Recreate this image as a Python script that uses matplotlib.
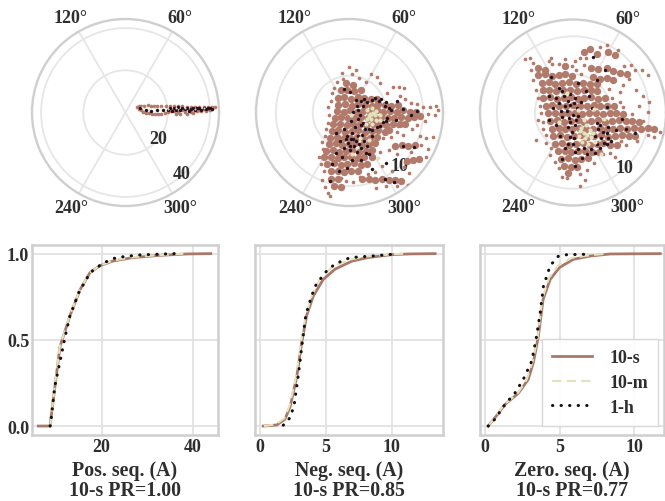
import numpy as np
import matplotlib
matplotlib.use('Agg')
import matplotlib.pyplot as plt

plt.rcParams['font.family'] = ['Liberation Serif', 'DejaVu Serif']
plt.rcParams['font.weight'] = 'bold'

BROWN = '#b27a6b'
PALE = '#e4e2bd'
DARK = '#26101c'
TEXT = '#2e2e2e'

pos_10s = np.array([
    5.5+2.4j, 6.5+2.9j, 7.5+3.1j, 9+3.3j, 10.5+3.4j, 12+3.3j, 13.5+3.3j, 15+3.2j, 17+3.1j, 19+3.1j,
    21+3j, 23+3j, 25+2.9j, 27+2.9j, 29+2.8j, 31+2.8j, 33+2.7j, 35+2.7j, 37+2.6j, 39+2.6j, 41+2.5j, 42.5+2.4j,
    6.5+1.6j, 7.5+1j, 8.5+0.4j, 9.5-0.1j, 11-0.3j, 12.5-0.5j, 14-0.6j, 15.5-0.6j, 17-0.5j, 18.5-0.4j,
    20+0.2j, 21.5+0.6j, 22+1.2j, 23+0.5j, 24-0.5j, 25+0.2j, 26-0.8j, 27+1.2j, 28+0.1j, 29-0.6j,
    30+1.1j, 31+0.4j, 32-0.3j, 33+1.3j, 34+0.6j, 35+1.4j, 36+0.5j, 37+1.5j, 38+0.9j, 39+1.6j, 40+1.2j, 41+1.7j,
])
neg_10s_core = np.array([
    -0.5+4j, 0.5+3.8j,
    -1.2+3j, -0.3+3.1j, 0.6+2.9j, 1.5+3j,
    -1.6+2j, -0.7+2.1j, 0.2+1.9j, 1.1+2.1j, 2+2j, 2.9+1.9j, 3.8+1.8j,
    -1.5+1j, -0.6+1.1j, 0.3+0.9j, 1.2+1.1j, 2.1+1j, 3+0.9j, 3.9+1.1j, 4.8+1j, 5.7+0.9j, 6.6+1j,
    -1.7+0.2j, -0.8+0.1j, 0.1+0.3j, 1+0.1j, 1.9+0.2j, 2.8+0.1j, 3.7+0.3j, 4.6+0.1j, 5.5+0.2j, 6.4+0.1j, 7.3+0.3j, 8.2+0.1j, 9.1+0.1j,
    -2-0.7j, -1.1-0.6j, -0.2-0.8j, 0.7-0.7j, 1.6-0.6j, 2.5-0.8j, 3.4-0.7j, 4.3-0.6j, 5.2-0.8j, 6.1-0.7j, 7-0.6j, 7.9-0.7j, 8.8-0.6j, 9.6-0.5j,
    -2.2-1.6j, -1.3-1.5j, -0.4-1.7j, 0.5-1.6j, 1.4-1.5j, 2.3-1.7j, 3.2-1.6j, 4.1-1.5j, 5-1.7j, 5.9-1.6j, 6.8-1.5j, 7.6-1.6j,
    -2.4-2.5j, -1.5-2.4j, -0.6-2.6j, 0.3-2.5j, 1.2-2.4j, 2.1-2.6j, 3-2.5j, 3.9-2.4j, 4.8-2.6j, 5.4-2.4j,
    -2.6-3.4j, -1.7-3.3j, -0.8-3.5j, 0.1-3.4j, 1-3.3j, 1.9-3.5j, 2.8-3.4j, 3.7-3.3j,
    -2.8-4.3j, -1.9-4.2j, -1-4.4j, -0.1-4.3j, 0.8-4.2j, 1.7-4.4j, 2.6-4.3j, 3.5-4.2j, 6.2-4.5j, 7.1-4.4j, 8-4.5j, 8.9-4.4j,
    -3.2-5.2j, -2.3-5.1j, -1.4-5.3j, -0.5-5.2j, 0.4-5.1j, 1.3-5.3j, 2.2-5.2j, 3-5.1j,
    -3.4-6.1j, -2.5-6j, -1.6-6.2j, -0.7-6.1j, 0.2-6j, 1.1-6.2j, 2-6.1j, 3.1-6j, 8.6-6.5j, 9.4-6.3j, 7.8-6.6j,
    -3-7j, -2.1-6.9j, -1.2-7.1j, -0.3-7j, 0.6-6.9j, 1.5-7.1j, 2.4-7j,
    -2.5-8j, -1.6-7.9j, -0.7-8.1j, 0.2-8j, 1.1-7.9j,
    -2.5-9j, -1.6-9.1j, 1.7-9.1j, 2.6-9j, 3.5-9.2j, 4.4-9.1j, 5.3-9.2j, 6.2-9.2j, 7-9.3j,
    -2.1-10j, -1.2-10.1j,
])
neg_10s_edge = np.array([
    -0.1+6.2j, -1+5.4j, 0.4+5.2j, 2.9+5.2j, 3.8+4.8j, 4.1+4j, 2.2+4.2j, 1.3+4.7j, 5.9+3.4j, 6.7+3.5j, 7.4+3.3j, 5.1+2.6j,
    6.9+2.2j, 7.6+1.9j, 8.4+1.3j, 9.2+1.1j, 10+0.7j, 11+0.8j, 11.8+0.9j, 10.6-0.2j, 11.6-0.4j, 10.3-1.1j, 9.2-1.7j, 8.5-2.2j,
    6.4-2.6j, 7.2-3.1j, 5.6-3.3j, 4.6-3.5j, 9.6-3.2j, 10.4-3.4j, 11.3-3.3j, 9.7-4.4j, 10.6-4.9j, 8.4-5.4j, 6.4-5.6j, 5.4-5.1j,
    4.2-5.4j, 10.4-6.1j, 10.9-6.8j, 7.4-7.4j, 5.8-7.9j, 4.4-7.2j, 3.5-8.1j, 2.5-8.3j, 8.1-8.2j, 7.9-9.9j, 6.4-10j, 4.9-10j,
    3.6-10.2j, 0.5-9.4j, -0.5-9.3j, -1.2-8.9j, -3.5-8j, -3.9-7j, -4.2-6.1j, -3.7-9.2j, -3.3-10.1j, -2.9-10.9j, -2.6-11.4j,
    -3.6-5j, -3.7-4j, -3.3-3.2j, -3.2-2.3j, -2.9-1.4j, -2.8-0.4j, -2.9+0.7j, -2.5+1.5j, -2.4+2.6j, -2.1+3.3j, -1.7+4.2j, -0.9+4.6j,
    12+0.3j, 6.6-1.9j, 1.4-8.8j, 0.9+5.8j,
])
neg_1h = np.array([
    1.8+0.9j, 2.4+1.4j, 3+1.7j, 4+1.5j, 4.8+0.9j, 5.6+0.3j, 5.1-0.7j, 4.5-1.3j, 3.7-2j, 2.6-2.3j, 1.8-1.4j, 1.4-0.4j,
    0.8-2j, 0.3-2.8j, -0.3-3.2j, 0.5-3.6j, 1.1-3.2j, 1.7-3.1j, 2-3.9j, 1.3-4.3j, 0.6-4.5j, -0.2-4.2j, -0.5-3.6j, 0.1-5.1j,
    1-5.3j, 2.4-4.6j, -0.8-2.3j, -1.3-3.9j, 0.9+1.7j, 0.1+2.8j, -0.7+3.2j, 6.4+1.6j, 7.2+0.5j, 8.4-0.3j, 9.2+0.2j, 6.3-1j,
    -1.8-5.5j, -1-6j, 0.3-6.4j, 1.5-6.5j, 2.7-5.7j, -2.4-7j, -1.4-8j, -0.3-7.6j, -2.7-9.3j, 4.8-9j, 6-9.4j, 3.1-7.7j, 4.9-6.9j,
    7.3-4.6j, 8.7-4.7j, 3.4-0.4j, 1+0.9j, 0.5+0.1j, 0.2-1.1j, 3-3.2j, 2.2-5.5j, -1.8-2.8j,
    1.5+1.5j, 2+1.9j, 3.4+2j, 4.3+1.9j, 5+1.4j, 5.3+0.6j, 1.2+0.4j, 1.1-0.9j, 1.5-1.7j, 2.1-2.2j, 3-2.4j, 4.2-1.8j, 4.9-1.2j, 0.2-3.6j, 0.9-3.9j, 0-4.6j, -0.7-4.8j, 1.6-4.8j,
])
neg_10m = np.array([
    2.4+0.3j, 3+0.6j, 3.6+0.2j, 4.1-0.3j, 3.4-0.4j, 2.8-0.2j, 2.9-0.9j, 3.6-1j, 2.4-0.9j, 2.2-1.6j, 3-1.5j, 4.2-1j, 3.2+0j, 2.6-0.5j,
    1.4-3.4j, 2.6-3.7j, 0.4-5.6j, 3.9-6.2j, 0.2-0.4j,
])
zero_10s_core = np.array([
    1.4+8j, 2.2+8.3j, 3.1+7.7j, 4.6+8j, 5.5+7.6j,
    -4.6+5.9j, -3.7+5.6j, -1+6.1j, 2.4+5.9j, 3.3+5.7j, 4.4+5.8j, 5.3+5.4j, 6.2+5.2j, 7.1+5.1j,
    -4.6+4.9j, -3.7+5j, -2.8+4.8j, -1.9+4.9j, -1+5j, -0.1+4.8j, 2.6+4.6j, 3.5+4.4j, 4.4+4.5j, 5.3+4.3j,
    -4.1+3.9j, -3.2+4j, -2.3+3.8j, -1.4+3.9j, -0.5+4j, 0.4+3.8j, 1.3+3.9j, 2.2+3.8j, 3.1+3.7j,
    -4+2.9j, -3.1+3j, -2.2+2.8j, -1.3+2.9j, -0.4+3j, 0.5+2.8j, 1.4+2.9j, 2.3+3j, 3.2+2.8j,
    -3.9+1.9j, -3+2j, -2.1+1.8j, -1.2+1.9j, -0.3+2j, 0.6+1.8j, 1.5+1.9j, 2.4+2j, 3.3+1.8j, 4.2+1.9j,
    -3.6+0.9j, -2.7+1j, -1.8+0.8j, -0.9+0.9j, 0+1j, 0.9+0.8j, 1.8+0.9j, 2.7+1j, 3.6+0.8j, 4.5+0.9j, 5.4+0.8j,
    -3.3-0.1j, -2.4+0j, -1.5-0.2j, -0.6-0.1j, 0.3+0j, 1.2-0.2j, 2.1-0.1j, 3+0j, 3.9-0.2j, 4.8-0.1j, 5.7-0.1j, 6.6-0.2j,
    -3-1.1j, -2.1-1j, -1.2-1.2j, -0.3-1.1j, 0.6-1j, 1.5-1.2j, 2.4-1.1j, 3.3-1j, 4.2-1.2j, 5.1-1.1j, 6-1j, 6.9-1.1j, 7.8-1.1j, 8.7-1.2j,
    -2.8-2.1j, -1.9-2j, -1-2.2j, -0.1-2.1j, 0.8-2j, 1.7-2.2j, 2.6-2.1j, 3.5-2j, 4.4-2.2j, 5.3-2.1j, 6.2-2j, 7.1-2.1j, 8-2j, 8.9-2.1j, 9.8-2j, 10.6-2.1j,
    -2.6-3.1j, -1.7-3j, -0.8-3.2j, 0.1-3.1j, 1-3j, 1.9-3.2j, 2.8-3.1j, 3.7-3j, 4.6-3.2j, 5.5-3.1j, 6.4-3j, 7.3-3.1j, 8.1-3.1j,
    -2.3-4.1j, -1.4-4j, -0.5-4.2j, 0.4-4.1j, 1.3-4j, 2.2-4.2j, 3.1-4.1j, 4-4j, 4.9-4.2j, 5.8-4.3j,
    -2-5.1j, -1.1-5j, -0.2-5.2j, 0.7-5.1j, 1.6-5j, 2.5-5.2j, 3.4-5.2j,
    -1.6-6.1j, -0.7-6j, 0.2-6.2j, 1.1-6.1j, 2-6j, -1.2-7j, -0.3-7.1j, 0.5-7.2j, -0.7-7.9j,
])
zero_10s_edge = np.array([
    0.9+7.2j, 1.7+7.2j, 3.6+8.6j, 4.4+8.8j, 5.9+8.2j, 0.3+6.8j, -2.9+7.1j, -2.8+6.3j, -3.2+6.8j, -6.3+7j, -5.7+7.2j, -5.2+6.5j,
    -5.5+5.6j, -5.2+4.2j, -4.8+3j, -4.6+1.9j, -4.3+0.9j, -4.2-0.1j, -3.9-1.2j, -4-2.2j, -3.5-3j, -3.6-4j, -2.9-4.7j, -3-5.6j,
    -2.4-6.5j, -1.9-7.3j, -1.5-8.4j, -0.8-8.6j, 0.9-8.1j, 1.8-7.6j, 1.6-8.9j, 0.9-9.6j, 2.7-6.6j, 4-5.5j, 4.9-5.3j, 5.5-5.9j, 7-4.2j,
    6.3-3.8j, 8.4-3.8j, 9.8-3j, 10.6-3.2j, 11.4-2.6j, 11.9-3j, 9.2-1.1j, 7.8-0.2j, 6.6+0.7j, 6.1+1.4j, 5.1+1.9j, 6.2+2.7j, 4.7+3.1j,
    6.5+3.6j, 7.3+4.4j, 8.1+5.6j, 9.1+5.6j, 9.8+4.9j, 8.3+2.9j, 9.2+2.2j, 10+1.4j, 8.7+0.9j, 9.9+0.1j, 1.1+5.1j, 0.4+5.6j, 1.4+6.2j, -0.1+6.1j,
    -1.9+6.3j, -1+7j, 6.7+6.1j, 7.6+6.2j, -4.9-3.6j, -4.6-1j,
])
zero_1h = np.array([
    -1.2+2.1j, -0.4+2.4j, 0.3+1.9j, 1+1.4j, -1.9+1.2j, -1.1+0.9j, -0.4+1j, 0.5+0.6j, -1.6+0.2j, -0.8+0.2j, 0-0.3j, 0.7-0.5j,
    -0.4-1.2j, 0.2-1.7j, -0.1-2.6j, 3.3-2.1j, 3.9-2.6j, 3.7-3.3j, 4.1-4j, 3.2-4.1j, 2.4-4.8j, 1.5-4.7j, 0.7-4.8j, 0-4.1j, 0.1-3.4j,
    3.1-1.4j, 2.5+0.6j, 1.7+2.8j, -1.8+3.2j, -3.2+2.1j, -2.6+0.6j, 4.6-1.9j, 5.7-2.3j, 7-2.2j, 8.1-2.7j, 6.4-0.8j, 4.4+0.7j,
    -2.2-1.7j, -1.7-3.1j, -1-4.6j, -1.4-6.1j, 1.2-6j, 0.2-7j, 5-3.7j, 3.2+4.3j, 0.6+3.9j, -2.9+4.6j, 4.2+5.6j, 2.6+7.3j, 2.1+2.2j,
    -3.2-1j, 2.9-3.1j, 4.6-3.3j, 1.9-5.5j,
    -2.2+1.9j, -1.5+2.8j, -0.7+1.5j, 0.1+1.2j, -1.4-0.6j, -0.5-0.7j, 0.4-1j, 3.6-1.7j, 4.5-2.7j, 4.5-4.1j, 3.6-4.7j, 2.9-5.3j, 0.2-5.2j, -0.6-4.1j, -0.4-3.2j, -0.7-1.9j,
])
zero_10m = np.array([
    1.1-2j, 1.7-1.6j, 2.2-2.3j, 1.4-2.7j, 0.8-3.1j, 1.6-3.4j, 2.4-3.2j, 2.9-3.9j, 2-4.1j, 1.2-3.9j, 0.9-2.4j, 2.6-2.7j,
    1.9-2.9j, 1.4-1j, 0.6+0.3j, -0.8+2.6j, 2.8+0.5j, 4.1-0.9j, -1.9-1.2j, 3.7-5.4j,
])
pos_1h = np.array([
    7+1.9j, 9.5+1.3j, 12+0.7j, 15+1j, 18+1.4j, 20+1.1j, 21+2.2j, 22+0.9j, 23+2j, 24+1.3j, 25+2.4j, 26+1.1j, 27+2j, 28+1.6j,
    29+2.2j, 30+0.8j, 31+1.7j, 32+2.2j, 33+1j, 34+1.9j, 35+2.2j, 36+1.4j, 37+2j, 38+1.6j, 39+2.1j, 40+1.9j, 41+1.6j,
])
pos_10m = np.array([
    8+2.4j, 11+1.7j, 14+2.2j, 17+1.9j, 20+1.5j, 24+1.9j, 28+2.1j, 33+1.8j, 37+1.9j,
])

# cdf curves
pos_x_10s = [6.1, 8.66, 9.75, 10.85, 13.05, 15.25, 17.45, 19.65, 22.5, 26.9, 32.8, 38.7, 44]
pos_y_10s = [0, 0, 0.23, 0.46, 0.64, 0.79, 0.89, 0.93, 0.957, 0.977, 0.99, 0.998, 1]
pos_x_10m = [8.7, 9.7, 10.8, 13, 15.2, 17.4, 19.6, 22.5, 27, 33, 38.5]
pos_y_10m = [0, 0.23, 0.46, 0.64, 0.79, 0.89, 0.93, 0.96, 0.98, 0.992, 1]
pos_x_1h = [8.7, 9, 9.7, 10.9, 12, 13, 15, 17.5, 20.3, 23.2, 28, 36]
pos_y_1h = [0, 0.06, 0.23, 0.38, 0.52, 0.635, 0.775, 0.89, 0.945, 0.977, 0.992, 1]

neg_x_10s = [0.25, 1.27, 1.9, 2.3, 2.8, 3.16, 3.54, 4.05, 4.8, 5.7, 7, 8.2, 10, 11.3, 13.3]
neg_y_10s = [0, 0.006, 0.04, 0.115, 0.29, 0.48, 0.64, 0.755, 0.85, 0.91, 0.957, 0.977, 0.994, 0.998, 1]
neg_x_10m = [0.3, 1.2, 1.85, 2.25, 2.75, 3.1, 3.47, 3.95, 4.6, 5.5, 6.8, 8, 10, 11]
neg_y_10m = [0, 0.01, 0.045, 0.12, 0.29, 0.48, 0.64, 0.76, 0.86, 0.925, 0.965, 0.983, 0.996, 1]
neg_x_1h = [1.77, 2.3, 2.6, 2.9, 3.24, 3.47, 3.8, 4.18, 4.94, 5.7, 6.85, 8.5, 10]
neg_y_1h = [0.005, 0.05, 0.125, 0.29, 0.5, 0.64, 0.725, 0.81, 0.89, 0.94, 0.977, 0.986, 0.996]

zero_x_10s = [0.22, 0.78, 1.34, 2.24, 2.9, 3.25, 3.58, 3.9, 4.37, 5, 5.93, 7.05, 8.4, 11.75]
zero_y_10s = [0, 0.06, 0.125, 0.19, 0.27, 0.37, 0.52, 0.735, 0.85, 0.92, 0.967, 0.986, 0.998, 1]
zero_x_10m = [0.22, 0.75, 1.3, 2.2, 2.8, 3.2, 3.55, 3.85, 4.3, 4.9, 5.8, 7, 8.2]
zero_y_10m = [0, 0.06, 0.125, 0.19, 0.27, 0.375, 0.52, 0.74, 0.86, 0.93, 0.975, 0.99, 1]
zero_x_1h = [0.22, 0.67, 1.34, 2, 2.57, 3.13, 3.42, 3.7, 3.92, 4.37, 4.93, 5.5, 6.7]
zero_y_1h = [0, 0.04, 0.125, 0.19, 0.27, 0.375, 0.5, 0.655, 0.81, 0.93, 0.986, 0.994, 0.996]

pos_title = 'Pos. seq. (A)\n10-s PR=1.00'
neg_title = 'Neg. seq. (A)\n10-s PR=0.85'
zero_title = 'Zero. seq. (A)\n10-s PR=0.77'

W, H = 665.0, 502.0
fig = plt.figure(figsize=(6.65, 5.02), dpi=100)


def box(left, top, right, bottom, **kw):
    return fig.add_axes([left/W, 1-bottom/H, (right-left)/W, (bottom-top)/H], **kw)


def polar_panel(left, right, rmax, rings, ring_labels, core, edge, hour, minute, pale_size=9):
    ax = box(left, 20, right, 207, projection='polar')
    ax.set_axisbelow(True)
    ax.set_ylim(0, rmax)
    ax.set_thetagrids([60, 120, 240, 300], ['60°', '120°', '240°', '300°'], fontsize=13, color=TEXT)
    ax.set_rgrids(rings, ring_labels, fontsize=13, color=TEXT)
    ax.set_rlabel_position(-56)
    ax.tick_params(axis='x', pad=1)
    ax.tick_params(axis='y', pad=0)
    ax.grid(color='#e6e6e6', lw=1.3)
    ax.spines['polar'].set_color('#cfcfcf')
    ax.spines['polar'].set_linewidth(1.7)
    if core is not None:
        ax.scatter(np.angle(core), np.abs(core), s=28, c=BROWN, lw=0, zorder=3)
    ax.scatter(np.angle(edge), np.abs(edge), s=7, c=BROWN, lw=0, zorder=3)
    ax.scatter(np.angle(hour), np.abs(hour), s=6, c=DARK, lw=0, zorder=4)
    ax.scatter(np.angle(minute), np.abs(minute), s=pale_size, c=PALE, lw=0, zorder=5)
    return ax


def cdf_panel(left, right, xlim, xticks, title, s, m, h):
    ax = box(left, 246, right, 436)
    ax.set_xlim(*xlim)
    ax.set_ylim(-0.052, 1.05)
    ax.set_xticks(xticks)
    ax.set_yticks([0, 0.5, 1])
    ax.set_axisbelow(True)
    ax.grid(color='#e2e2e2', lw=1.3)
    for sp in ax.spines.values():
        sp.set_color('#cfcfcf')
        sp.set_linewidth(1.8)
    ax.plot(s[0], s[1], color='#a97868', lw=2, label='10-s')
    ax.plot(m[0], m[1], color=PALE, lw=1.5, ls=(0, (4.5, 2.5)), label='10-m')
    ax.plot(h[0], h[1], color='#111111', lw=2.2, ls=(0, (0.1, 2.7)), dash_capstyle='round', label='1-h')
    ax.tick_params(length=0, labelsize=13, labelcolor=TEXT, pad=2)
    ax.set_xlabel(title, fontsize=14.3, color=TEXT, labelpad=4, linespacing=1.0, fontweight='bold')
    return ax


polar_panel(32, 219, 44.3, [20, 40], ['20', '40'], None, pos_10s, pos_1h, pos_10m, pale_size=2)
polar_panel(256, 443, 12.7, [5, 10], ['', '10'], neg_10s_core, neg_10s_edge, neg_1h, neg_10m)
polar_panel(480, 666, 12.2, [5, 10], ['', '10'], zero_10s_core, zero_10s_edge, zero_1h, zero_10m)

a1 = cdf_panel(32, 218, (4.7, 45.6), [20, 40], pos_title,
               (pos_x_10s, pos_y_10s), (pos_x_10m, pos_y_10m), (pos_x_1h, pos_y_1h))
a1.set_yticklabels(['0.0', '0.5', '1.0'])
a2 = cdf_panel(255, 443, (-0.38, 13.9), [0, 5, 10], neg_title,
               (neg_x_10s, neg_y_10s), (neg_x_10m, neg_y_10m), (neg_x_1h, neg_y_1h))
a2.set_yticklabels([])
a3 = cdf_panel(480, 664, (-0.33, 12), [0, 5, 10], zero_title,
               (zero_x_10s, zero_y_10s), (zero_x_10m, zero_y_10m), (zero_x_1h, zero_y_1h))
a3.set_yticklabels([])
a3.legend(loc='lower right', bbox_to_anchor=(0.97, 0.05), borderaxespad=0, fontsize=13,
          frameon=True, edgecolor='#d5d5d5', framealpha=0.9, fancybox=False, labelcolor=TEXT,
          handlelength=2.2, handletextpad=1.0, labelspacing=0.42, borderpad=0.55)

fig.savefig('out.png', dpi=100)
